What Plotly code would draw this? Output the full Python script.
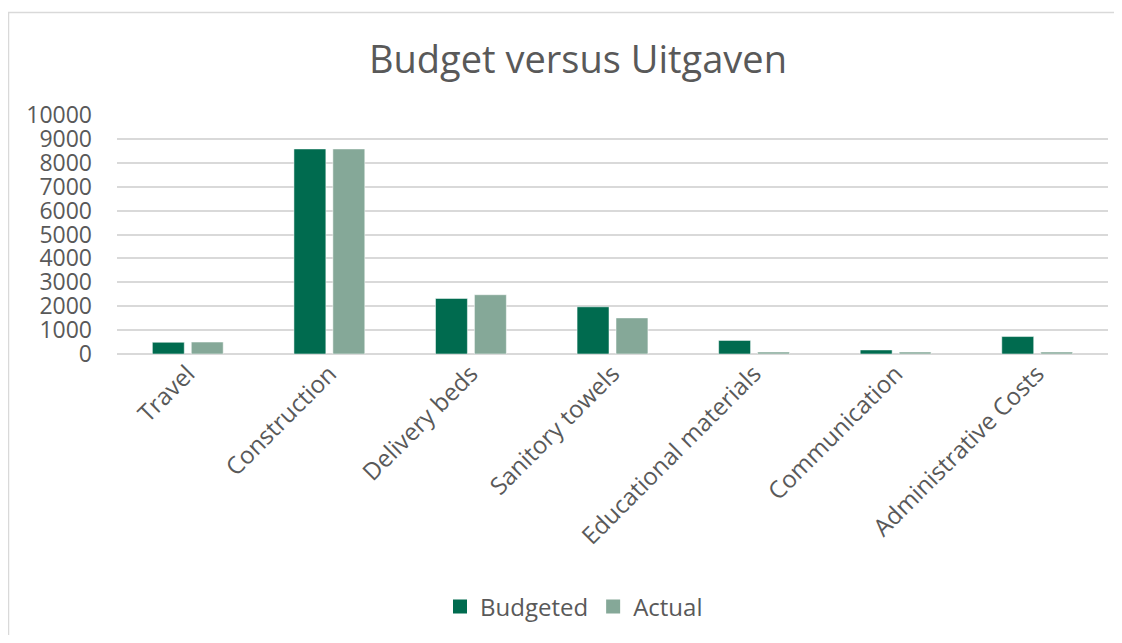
import plotly.graph_objects as go

categories = ["Travel", "Construction", "Delivery beds", "Sanitory towels",
              "Educational materials", "Communication", "Administrative Costs"]
budgeted = [490, 8580, 2325, 1975, 570, 170, 730]
actual = [500, 8580, 2480, 1510, 85, 85, 85]
y_ticks = [0, 1000, 2000, 3000, 4000, 5000, 6000, 7000, 8000, 9000, 10000]
y_labels = [str(v) for v in y_ticks]

font_family = "Open Sans"
text_color = "#595959"
c_budget = "#006B4F"
c_actual = "#85A898"

# page body has an 8px default margin, so the figure is drawn smaller to fit the window
W, H = 1106, 627
off = 8
plot_l, plot_r, plot_t, plot_b = 117 - off, 1108 - off, 115 - off, 354 - off
pw, ph = plot_r - plot_l, plot_b - plot_t

fig = go.Figure()
fig.add_trace(go.Bar(name="Budgeted", x=categories, y=budgeted, showlegend=False,
                     marker=dict(color=c_budget, line=dict(color="rgba(255,255,255,0.5)", width=1))))
fig.add_trace(go.Bar(name="Actual", x=categories, y=actual, showlegend=False,
                     marker=dict(color=c_actual, line=dict(color="rgba(255,255,255,0.5)", width=1))))
# legend entries with larger square swatches
for nm, col in [("Budgeted", c_budget), ("Actual", c_actual)]:
    fig.add_trace(go.Scatter(name=nm, x=[None], y=[None], mode="markers",
                             marker=dict(symbol="square", size=14, color=col, line=dict(width=0))))

fig.update_layout(
    width=W, height=H,
    margin=dict(l=plot_l, r=W - plot_r, t=plot_t, b=H - plot_b),
    paper_bgcolor="white", plot_bgcolor="white",
    barmode="group", bargap=0.45, bargroupgap=0.18,
    font=dict(family=font_family, color=text_color, size=23),
    title=dict(text="Budget versus Uitgaven", x=(578 - off) / W,
               xanchor="center", y=1 - (60 - off) / H, yanchor="middle",
               font=dict(size=38, color=text_color, family=font_family)),
    legend=dict(orientation="h", x=(574 - off - plot_l) / pw, xanchor="center",
                y=(plot_b - (607 - off)) / ph, yanchor="middle",
                font=dict(size=24, color=text_color), traceorder="normal", itemwidth=30),
    xaxis=dict(tickangle=-45, showgrid=False, showline=False, ticks="",
               tickfont=dict(size=24, color=text_color)),
    yaxis=dict(range=[0, 10000], tickvals=y_ticks, ticktext=y_labels, showgrid=True, gridcolor="#d9d9d9",
               gridwidth=1.5, zeroline=True, zerolinecolor="#d9d9d9", zerolinewidth=1.5,
               ticks="", tickfont=dict(size=23, color=text_color), ticklabelstandoff=24),
    shapes=[dict(type="rect", xref="paper", yref="paper",
                 x0=(8.5 - off - plot_l) / pw, x1=(1140 - off - plot_l) / pw,
                 y0=(plot_b - (660 - off)) / ph, y1=(plot_b - (12.5 - off)) / ph,
                 line=dict(color="#d9d9d9", width=1.5), fillcolor="rgba(0,0,0,0)", layer="below")],
)

fig.write_html("out.html")
